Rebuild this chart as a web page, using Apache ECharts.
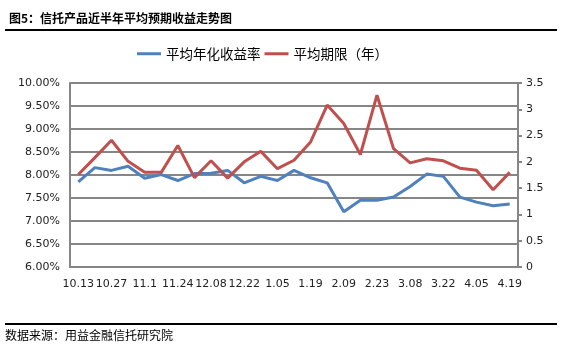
<!DOCTYPE html>
<html>
<head>
<meta charset="utf-8">
<script src="https://cdn.jsdelivr.net/npm/echarts@6/dist/echarts.min.js"></script>
<style>
  html, body { margin: 0; padding: 0; background: #fff; }
  #main { width: 562px; height: 351px; }
</style>
</head>
<body>
<div id="main"></div>
<script>
// 周度日期（横轴隔一个显示）
const dates = ['10.13', '10.20', '10.27', '11.03', '11.1', '11.17', '11.24', '12.01', '12.08',
  '12.15', '12.22', '12.29', '1.05', '1.12', '1.19', '1.26', '2.09', '2.16', '2.23',
  '3.01', '3.08', '3.15', '3.22', '3.29', '4.05', '4.12', '4.19']

// 平均年化收益率 (%)
const yieldRate = [7.85, 8.16, 8.10, 8.19, 7.93, 8.01, 7.88, 8.03, 8.04, 8.10,
  7.83, 7.97, 7.88, 8.10, 7.94, 7.83, 7.20, 7.45, 7.45, 7.52,
  7.75, 8.02, 7.97, 7.52, 7.41, 7.33, 7.37]

// 平均期限（年）
const term = [1.76, 2.08, 2.41, 2.01, 1.80, 1.80, 2.31, 1.70, 2.02, 1.69,
  2.00, 2.20, 1.87, 2.03, 2.38, 3.08, 2.73, 2.14, 3.27, 2.25,
  1.98, 2.06, 2.02, 1.88, 1.84, 1.47, 1.80]

const leftTicks = [6, 10, 0.5]   // min, max, interval
const rightTicks = [0, 3.5, 0.5]

const chart = echarts.init(document.getElementById('main'), null, { renderer: 'canvas' })

const cjk = '"Noto Sans CJK SC", sans-serif'
const axisColor = '#868686'

const option = {
  backgroundColor: '#fff',
  animation: false,
  title: {
    text: '图5：信托产品近半年平均预期收益走势图',
    left: 4,
    top: 7,
    textStyle: { fontFamily: cjk, fontSize: 12, fontWeight: 'bold', color: '#000' }
  },
  legend: {
    top: 42,
    left: 132,
    icon: 'rect',
    itemWidth: 24,
    itemHeight: 3,
    itemGap: 4,
    textStyle: { fontFamily: cjk, fontSize: 13.5, color: '#000' },
    data: ['平均年化收益率', '平均期限（年）']
  },
  graphic: [
    { type: 'line', shape: { x1: 5, y1: 30, x2: 557, y2: 30 }, style: { stroke: '#000', lineWidth: 2 } },
    { type: 'line', shape: { x1: 5, y1: 324, x2: 557, y2: 324 }, style: { stroke: '#000', lineWidth: 2 } },
    {
      type: 'text', left: 5, top: 329,
      style: { text: '数据来源：用益金融信托研究院', font: '12px "Noto Sans CJK SC"', fill: '#000' }
    }
  ],
  grid: { left: 70, right: 44, top: 83, bottom: 84 },
  xAxis: {
    type: 'category',
    data: dates,
    boundaryGap: true,
    axisLine: { lineStyle: { color: axisColor, width: 2 } },
    axisTick: { show: false },
    axisLabel: { interval: 1, color: '#222', fontFamily: 'Verdana, "DejaVu Sans", sans-serif', fontSize: 11, margin: 12 }
  },
  yAxis: [
    {
      type: 'value',
      min: leftTicks[0], max: leftTicks[1], interval: leftTicks[2],
      axisLine: { show: true, lineStyle: { color: axisColor, width: 2 } },
      axisTick: { show: false },
      splitLine: { lineStyle: { color: axisColor, width: 2 } },
      axisLabel: {
        color: '#222', fontFamily: 'Verdana, "DejaVu Sans", sans-serif', fontSize: 11, margin: 10,
        formatter: v => v.toFixed(2) + '%'
      }
    },
    {
      type: 'value',
      min: rightTicks[0], max: rightTicks[1], interval: rightTicks[2],
      axisLine: { show: true, lineStyle: { color: axisColor, width: 2 } },
      axisTick: { show: true, length: 4, lineStyle: { color: axisColor, width: 2 } },
      splitLine: { show: false },
      axisLabel: { color: '#222', fontFamily: 'Verdana, "DejaVu Sans", sans-serif', fontSize: 11, margin: 8 }
    }
  ],
  series: [
    {
      name: '平均年化收益率',
      type: 'line',
      yAxisIndex: 0,
      data: yieldRate,
      symbol: 'none',
      lineStyle: { color: '#4F81BD', width: 3 },
      itemStyle: { color: '#4F81BD' }
    },
    {
      name: '平均期限（年）',
      type: 'line',
      yAxisIndex: 1,
      data: term,
      symbol: 'none',
      lineStyle: { color: '#C0504D', width: 3 },
      itemStyle: { color: '#C0504D' }
    }
  ]
}

chart.setOption(option)
</script>
</body>
</html>
